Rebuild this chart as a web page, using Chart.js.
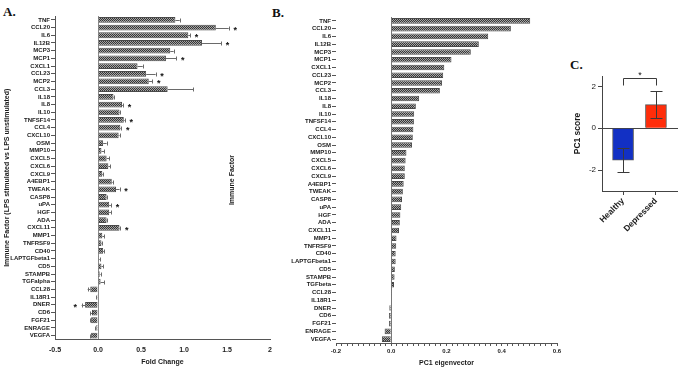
<!DOCTYPE html>
<html lang="en">
<head>
<meta charset="UTF-8">
<title>Immune factors and PC1</title>
<script src="https://cdn.jsdelivr.net/npm/chart.js"></script>
<style>
  body { margin: 0; background: #fff; width: 678px; height: 367px; position: relative; overflow: hidden; }
  .box { position: absolute; }
  .tag { position: absolute; font: bold 13px "Liberation Serif", "Times New Roman", serif; color: #111; }
</style>
</head>
<body>
<div class="tag" style="left:3px;top:4px">A.</div>
<div class="tag" style="left:272px;top:5px">B.</div>
<div class="tag" style="left:570px;top:57px">C.</div>
<div class="box" style="left:0;top:0;width:290px;height:367px"><canvas id="chartA"></canvas></div>
<div class="box" style="left:225px;top:0;width:345px;height:367px"><canvas id="chartB"></canvas></div>
<div class="box" style="left:560px;top:40px;width:118px;height:230px"><canvas id="chartC"></canvas></div>

<script>
// panel A - fold change
var factorsA = ['TNF','CCL20','IL6','IL12B','MCP3','MCP1','CXCL1','CCL23','MCP2','CCL3','IL18','IL8','IL10','TNFSF14','CCL4','CXCL10','OSM','MMP10','CXCL5','CXCL6','CXCL9','A4EBP1','TWEAK','CASP8','uPA','HGF','ADA','CXCL11','MMP1','TNFRSF9','CD40','LAPTGFbeta1','CD5','STAMPB','TGFalpha','CCL28','IL18R1','DNER','CD6','FGF21','ENRAGE','VEGFA'];
var foldChange = [0.90,1.37,1.05,1.21,0.84,0.79,0.46,0.56,0.59,0.81,0.18,0.28,0.25,0.30,0.26,0.24,0.06,0.04,0.10,0.12,0.05,0.16,0.21,0.10,0.13,0.13,0.10,0.25,0.05,0.04,0.06,0.01,0.04,0.02,0.03,-0.09,-0.01,-0.15,-0.07,-0.08,-0.02,-0.08];
var foldErr = [0.05,0.15,0.02,0.22,0.04,0.12,0.06,0.11,0.04,0.30,0.01,0.01,0.01,0.01,0.01,0.01,0.04,0.03,0.03,0.02,0.01,0.01,0.04,0.01,0.02,0.02,0.01,0.01,0.02,0.01,0.01,0.01,0.02,0.01,0.04,0.03,0.01,0.04,0.02,0.01,0.01,0.01];
var sigA = ['CCL20','IL6','IL12B','MCP1','CCL23','MCP2','IL8','TNFSF14','CCL4','TWEAK','uPA','CXCL11','DNER'];
var foldTicks = [-0.5, 0, 0.5, 1, 1.5, 2];

// panel B - PC1 eigenvector
var factorsB = ['TNF','CCL20','IL6','IL12B','MCP3','MCP1','CXCL1','CCL23','MCP2','CCL3','IL18','IL8','IL10','TNFSF14','CCL4','CXCL10','OSM','MMP10','CXCL5','CXCL6','CXCL9','A4EBP1','TWEAK','CASP8','uPA','HGF','ADA','CXCL11','MMP1','TNFRSF9','CD40','LAPTGFbeta1','CD5','STAMPB','TGFbeta','CCL28','IL18R1','DNER','CD6','FGF21','ENRAGE','VEGFA'];
var eigen = [0.503,0.433,0.351,0.317,0.288,0.218,0.192,0.188,0.184,0.176,0.101,0.089,0.083,0.082,0.080,0.078,0.075,0.055,0.052,0.049,0.049,0.045,0.042,0.039,0.036,0.033,0.031,0.028,0.019,0.018,0.016,0.016,0.013,0.012,0.010,0.001,0.0,-0.007,-0.008,-0.008,-0.024,-0.034];

// panel C - PC1 score
var groupsC = ['Healthy', 'Depressed'];
var pcScore = [-1.52, 1.13];
var pcErr = [0.58, 0.66];
var scoreTicks = [-2, 0, 2];

Chart.defaults.font.family = '"Liberation Sans", Arial, sans-serif';
Chart.defaults.color = '#1a1a1a';

function makeHatch() {
    var c = document.createElement('canvas');
    c.width = 2; c.height = 2;
    var g = c.getContext('2d');
    g.fillStyle = '#a4a4a4';
    g.fillRect(0, 0, 2, 2);
    g.fillStyle = '#363636';
    g.fillRect(0, 0, 1, 1);
    g.fillRect(1, 1, 1, 1);
    return g.createPattern(c, 'repeat');
}
var hatch = makeHatch();

function zeroLine(col) {
    return function (c) {
        return c.tick && Math.abs(c.tick.value) < 1e-9 ? col : 'transparent';
    };
}

// one-sided error bars + stars for panel A
var errA = {
    id: 'errA',
    afterDatasetsDraw: function (chart) {
        var ctx = chart.ctx, x = chart.scales.x, y = chart.scales.y;
        ctx.save();
        ctx.strokeStyle = '#6a6a6a';
        ctx.lineWidth = 1;
        ctx.fillStyle = '#111';
        ctx.font = 'bold 9px "Liberation Sans", Arial, sans-serif';
        ctx.textAlign = 'center';
        ctx.textBaseline = 'middle';
        for (var i = 0; i < foldChange.length; i++) {
            var v = foldChange[i];
            var dir = v < 0 ? -1 : 1;
            var yy = Math.round(y.getPixelForValue(i)) + 0.5;
            var x0 = x.getPixelForValue(v);
            var x1 = x.getPixelForValue(v + dir * foldErr[i]);
            var xc = Math.round(x1) + 0.5;
            ctx.beginPath();
            ctx.moveTo(x0, yy); ctx.lineTo(x1, yy);
            ctx.moveTo(xc, yy - 2); ctx.lineTo(xc, yy + 2);
            ctx.stroke();
            if (sigA.indexOf(factorsA[i]) >= 0) {
                ctx.fillText('*', x1 + dir * 6.5, yy + 2.5);
            }
        }
        ctx.restore();
    }
};

// error bars and significance bracket for panel C
var errC = {
    id: 'errC',
    afterDatasetsDraw: function (chart) {
        var ctx = chart.ctx, x = chart.scales.x, y = chart.scales.y;
        ctx.save();
        ctx.strokeStyle = '#3a3a3a';
        ctx.lineWidth = 1;
        ctx.beginPath();
        for (var i = 0; i < pcScore.length; i++) {
            var xx = Math.round(x.getPixelForValue(i)) + 0.5;
            var lo = Math.round(y.getPixelForValue(pcScore[i] - pcErr[i])) + 0.5;
            var hi = Math.round(y.getPixelForValue(pcScore[i] + pcErr[i])) + 0.5;
            ctx.moveTo(xx, lo); ctx.lineTo(xx, hi);
            ctx.moveTo(xx - 6, lo); ctx.lineTo(xx + 6, lo);
            ctx.moveTo(xx - 6, hi); ctx.lineTo(xx + 6, hi);
        }
        var xa = Math.round(x.getPixelForValue(0)) + 0.5;
        var xb = Math.round(x.getPixelForValue(1)) + 0.5;
        var yt = Math.round(y.getPixelForValue(2.41)) + 0.5;
        var yd = Math.round(y.getPixelForValue(2.09)) + 0.5;
        ctx.moveTo(xa, yd); ctx.lineTo(xa, yt); ctx.lineTo(xb, yt); ctx.lineTo(xb, yd);
        ctx.stroke();
        ctx.fillStyle = '#111';
        ctx.font = '9px "Liberation Sans", Arial, sans-serif';
        ctx.textAlign = 'center';
        ctx.textBaseline = 'middle';
        ctx.fillText('*', (xa + xb) / 2, yt - 3);
        ctx.restore();
    }
};

new Chart(document.getElementById('chartA'), {
    type: 'bar',
    data: {
        labels: factorsA,
        datasets: [{
            data: foldChange,
            backgroundColor: hatch,
            borderColor: '#4a4a4a',
            borderWidth: 1,
            barPercentage: 0.75,
            categoryPercentage: 1
        }]
    },
    options: {
        indexAxis: 'y',
        responsive: true,
        maintainAspectRatio: false,
        animation: false,
        layout: { padding: { top: 16, right: 20, left: 0, bottom: 0 } },
        plugins: { legend: { display: false }, tooltip: { enabled: false } },
        scales: {
            x: {
                type: 'linear', min: -0.5, max: 2,
                afterFit: function (s) { s.height = 27.5; },
                afterBuildTicks: function (s) { s.ticks = foldTicks.map(function (v) { return { value: v }; }); },
                border: { color: '#555' },
                grid: { drawTicks: false, color: zeroLine('#8c8c8c') },
                ticks: {
                    maxRotation: 0, padding: 6, font: { size: 7, weight: 'bold' },
                    callback: function (v) { return v === 2 ? '2' : v.toFixed(1); }
                },
                title: { display: true, text: 'Fold Change', font: { size: 7, weight: 'bold' }, padding: { top: 0, bottom: 1 } }
            },
            y: {
                afterFit: function (s) { s.width = 55; },
                border: { color: '#555' },
                grid: { drawOnChartArea: false, offset: false, tickLength: 4, tickColor: '#555' },
                ticks: { autoSkip: false, padding: 1, font: { size: 6, weight: 'bold' } },
                title: {
                    display: true, text: 'Immune Factor (LPS stimulated vs LPS unstimulated)',
                    font: { size: 7, weight: 'bold' }, padding: { top: 3, bottom: 0 }
                }
            }
        }
    },
    plugins: [errA]
});

new Chart(document.getElementById('chartB'), {
    type: 'bar',
    data: {
        labels: factorsB,
        datasets: [{
            data: eigen,
            backgroundColor: hatch,
            borderColor: '#4a4a4a',
            borderWidth: 1,
            barPercentage: 0.72,
            categoryPercentage: 1
        }]
    },
    options: {
        indexAxis: 'y',
        responsive: true,
        maintainAspectRatio: false,
        animation: false,
        layout: { padding: { top: 17, right: 13, left: 0, bottom: 0 } },
        plugins: { legend: { display: false }, tooltip: { enabled: false } },
        scales: {
            x: {
                type: 'linear', min: -0.2, max: 0.6,
                afterFit: function (s) { s.height = 24; },
                border: { color: '#555' },
                grid: { color: zeroLine('#777'), tickLength: 3, tickColor: '#555' },
                ticks: {
                    stepSize: 0.02, autoSkip: false, maxRotation: 0, padding: 2,
                    font: { size: 6, weight: 'bold' },
                    callback: function (v) {
                        var k = Math.round(v / 0.2);
                        return Math.abs(v - k * 0.2) < 1e-6 ? (k * 0.2).toFixed(1) : '';
                    }
                },
                title: { display: true, text: 'PC1 eigenvector', font: { size: 7, weight: 'bold' }, padding: { top: 0, bottom: 0 } }
            },
            y: {
                afterFit: function (s) { s.width = 111; },
                border: { display: false },
                grid: { drawOnChartArea: false, offset: false, tickLength: 4, tickColor: '#555' },
                ticks: { autoSkip: false, padding: 1, font: { size: 6, weight: 'bold' } },
                title: { display: true, text: 'Immune Factor', font: { size: 7, weight: 'bold' }, padding: { top: 3, bottom: 0 } }
            }
        }
    }
});

new Chart(document.getElementById('chartC'), {
    type: 'bar',
    data: {
        datasets: [{
            data: pcScore.map(function (v, i) { return { x: i, y: v }; }),
            backgroundColor: ['#1230c4', '#ff2d0a'],
            borderColor: '#555',
            borderWidth: 1,
            barThickness: 21
        }]
    },
    options: {
        responsive: true,
        maintainAspectRatio: false,
        animation: false,
        layout: { padding: { top: 36, right: 0, left: 0, bottom: 0 } },
        plugins: { legend: { display: false }, tooltip: { enabled: false } },
        scales: {
            x: {
                type: 'linear', min: -0.64, max: 1.67, offset: false,
                afterFit: function (s) { s.height = 79; },
                afterBuildTicks: function (s) { s.ticks = groupsC.map(function (g, i) { return { value: i }; }); },
                border: { color: '#444' },
                grid: { offset: false, color: 'transparent', tickColor: '#444', tickLength: 4 },
                ticks: {
                    autoSkip: false, minRotation: 45, maxRotation: 45, padding: 1,
                    font: { size: 8.5, weight: 'bold' },
                    callback: function (v) { return groupsC[v]; }
                }
            },
            y: {
                min: -3, max: 2.5,
                afterFit: function (s) { s.width = 42; },
                afterBuildTicks: function (s) { s.ticks = scoreTicks.map(function (v) { return { value: v }; }); },
                border: { color: '#444' },
                grid: { color: zeroLine('#444'), tickColor: '#444', tickLength: 4 },
                ticks: { padding: 2, font: { size: 8 } },
                title: { display: true, text: 'PC1 score', font: { size: 8.5, weight: 'bold' }, padding: { top: 13, bottom: 0 } }
            }
        }
    },
    plugins: [errC]
});
</script>
</body>
</html>
